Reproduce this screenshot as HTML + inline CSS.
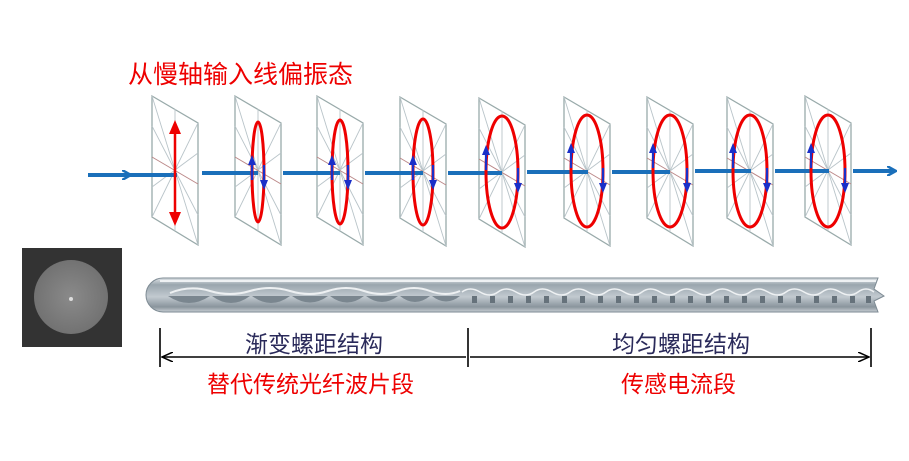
<!DOCTYPE html>
<html><head><meta charset="utf-8"><style>
html,body{margin:0;padding:0;background:#fff;width:909px;height:461px;overflow:hidden}
svg{display:block}
.t{font-family:"Liberation Sans","Noto Sans CJK SC",sans-serif}
</style></head><body>
<svg width="909" height="461" viewBox="0 0 909 461" xmlns="http://www.w3.org/2000/svg">
<defs>
<g id="pl">
<polygon points="0,0 46,27 46,149 0,121" fill="#fff" stroke="#9aa" stroke-width="1.3"/>
<g stroke="#b9c4c9" stroke-width="0.9">
<line x1="0" y1="0" x2="46" y2="149"/><line x1="46" y1="27" x2="0" y2="121"/>
<line x1="23" y1="13" x2="23" y2="135"/>
<line x1="0" y1="30" x2="46" y2="119"/><line x1="46" y1="57" x2="0" y2="91"/>
</g>
<line x1="0" y1="61" x2="46" y2="88" stroke="#b88" stroke-width="1"/>
</g>
<linearGradient id="fg" x1="0" y1="0" x2="0" y2="1">
<stop offset="0" stop-color="#dfe4e8"/><stop offset="0.2" stop-color="#9aa6ae"/><stop offset="0.55" stop-color="#c2cad0"/><stop offset="0.85" stop-color="#8a959d"/><stop offset="1" stop-color="#c8cfd4"/>
</linearGradient>
<radialGradient id="cg"><stop offset="0" stop-color="#8a8a8a"/><stop offset="1" stop-color="#727272"/></radialGradient>
<marker id="ah" markerWidth="10" markerHeight="10" refX="8" refY="5" orient="auto" markerUnits="userSpaceOnUse"><path d="M0,0 L9,5 L0,10" fill="none" stroke="#1a6fba" stroke-width="2.5"/></marker>
<marker id="bk" markerWidth="12" markerHeight="10" refX="11" refY="5" orient="auto" markerUnits="userSpaceOnUse"><path d="M0,0 L11,5 L0,10" fill="none" stroke="#000" stroke-width="1.5"/></marker>
</defs>

<text x="128" y="83" class="t" font-size="25" fill="#e00">从慢轴输入线偏振态</text>

<!-- beam -->
<g stroke="#1a6fba" stroke-width="4">
<line x1="88" y1="175" x2="130" y2="175" marker-end="url(#ah)"/>
<line x1="130" y1="175" x2="175" y2="175"/>
<line x1="202" y1="173" x2="258" y2="173"/>
<line x1="283" y1="173" x2="340" y2="173"/>
<line x1="365" y1="173" x2="423" y2="173"/>
<line x1="448" y1="173" x2="502" y2="173"/>
<line x1="527" y1="172" x2="588" y2="172"/>
<line x1="612" y1="172" x2="670" y2="172"/>
<line x1="695" y1="171" x2="751" y2="171"/>
<line x1="775" y1="171" x2="829" y2="171"/>
<line x1="853" y1="171" x2="895" y2="171" marker-end="url(#ah)"/>
</g>

<!-- planes -->
<use href="#pl" x="152" y="96"/>
<use href="#pl" x="235" y="96"/>
<use href="#pl" x="317" y="96"/>
<use href="#pl" x="400" y="97"/>
<use href="#pl" x="479" y="98"/>
<use href="#pl" x="564" y="97"/>
<use href="#pl" x="647" y="97"/>
<use href="#pl" x="727" y="97"/>
<use href="#pl" x="805" y="96"/>

<g stroke="#1a6fba" stroke-width="4">
<line x1="150" y1="175" x2="177" y2="175"/>
<line x1="233" y1="173" x2="258" y2="173"/>
<line x1="315" y1="173" x2="340" y2="173"/>
<line x1="398" y1="173" x2="423" y2="173"/>
<line x1="477" y1="173" x2="502" y2="173"/>
<line x1="562" y1="172" x2="588" y2="172"/>
<line x1="645" y1="172" x2="670" y2="172"/>
<line x1="725" y1="171" x2="751" y2="171"/>
<line x1="803" y1="171" x2="829" y2="171"/>
</g>

<g stroke="#e00" stroke-width="2.5" fill="#e00">
<line x1="175" y1="128" x2="175" y2="218"/>
<polygon points="175,120 169,134 181,134" stroke="none"/>
<polygon points="175,226 169,212 181,212" stroke="none"/>
</g>

<g fill="none" stroke="#e00" stroke-width="3">
<ellipse cx="258" cy="172" rx="6" ry="50"/>
<ellipse cx="340" cy="172" rx="8" ry="52"/>
<ellipse cx="423" cy="172" rx="10" ry="53"/>
<ellipse cx="502" cy="172" rx="16" ry="56"/>
<ellipse cx="587" cy="171" rx="16" ry="56"/>
<ellipse cx="670" cy="171" rx="17" ry="56"/>
<ellipse cx="750" cy="171" rx="17" ry="56"/>
<ellipse cx="828" cy="171" rx="17" ry="56"/>
</g>
<g stroke="#1a2fc8" stroke-width="2.2" fill="#1a2fc8">
<line x1="252" y1="180" x2="252" y2="162"/><polygon points="252,155 248,165 256,165" stroke="none"/>
<line x1="264" y1="165" x2="264" y2="183"/><polygon points="264,190 260,180 268,180" stroke="none"/>
<line x1="332" y1="180" x2="332" y2="162"/><polygon points="332,155 328,165 336,165" stroke="none"/>
<line x1="348" y1="165" x2="348" y2="183"/><polygon points="348,190 344,180 352,180" stroke="none"/>
<line x1="413" y1="180" x2="413" y2="162"/><polygon points="413,155 409,165 417,165" stroke="none"/>
<line x1="433" y1="165" x2="433" y2="183"/><polygon points="433,190 429,180 437,180" stroke="none"/>
<line x1="486" y1="170" x2="486" y2="152"/><polygon points="486,145 482,155 490,155" stroke="none"/>
<line x1="518" y1="168" x2="518" y2="186"/><polygon points="518,193 514,183 522,183" stroke="none"/>
<line x1="571" y1="168" x2="571" y2="150"/><polygon points="571,143 567,153 575,153" stroke="none"/>
<line x1="603" y1="168" x2="603" y2="186"/><polygon points="603,193 599,183 607,183" stroke="none"/>
<line x1="653" y1="168" x2="653" y2="150"/><polygon points="653,143 649,153 657,153" stroke="none"/>
<line x1="687" y1="168" x2="687" y2="186"/><polygon points="687,193 683,183 691,183" stroke="none"/>
<line x1="733" y1="168" x2="733" y2="150"/><polygon points="733,143 729,153 737,153" stroke="none"/>
<line x1="767" y1="168" x2="767" y2="186"/><polygon points="767,193 763,183 771,183" stroke="none"/>
<line x1="811" y1="168" x2="811" y2="150"/><polygon points="811,143 807,153 815,153" stroke="none"/>
<line x1="845" y1="168" x2="845" y2="186"/><polygon points="845,193 841,183 849,183" stroke="none"/>
</g>

<rect x="22" y="248" width="100" height="99" fill="#333"/>
<circle cx="71" cy="297" r="37" fill="url(#cg)"/>
<circle cx="71" cy="299" r="2" fill="#ddd"/>

<path d="M163,278 L878,278 L874,289 L884,296 L874,301 L878,312 L163,312 A17,17 0 0 1 163,278 Z" fill="url(#fg)" stroke="#7d8a93" stroke-width="1"/>
<line x1="160" y1="281" x2="876" y2="281" stroke="#eef1f3" stroke-width="2"/>
<g fill="#7a868f">
<path d="M168,296 Q189,310 210,296 Z"/><path d="M212,296 Q231,310 250,296 Z"/><path d="M252,296 Q271,310 290,296 Z"/><path d="M292,296 Q310,309 328,296 Z"/><path d="M330,296 Q347,309 364,296 Z"/><path d="M366,296 Q382,308 398,296 Z"/><path d="M400,296 Q415,308 430,296 Z"/><path d="M432,296 Q446,307 460,296 Z"/>
</g>
<path d="M170,293 Q190,285 210,291 T250,291 T290,291 T328,291 T364,291 T398,291 T430,291 T460,291" fill="none" stroke="#edf0f2" stroke-width="2"/>
<g fill="#66727b">
<rect x="472" y="296" width="5" height="7"/><rect x="490" y="296" width="5" height="7"/><rect x="508" y="296" width="5" height="7"/><rect x="526" y="296" width="5" height="7"/><rect x="544" y="296" width="5" height="7"/><rect x="562" y="296" width="5" height="7"/><rect x="580" y="296" width="5" height="7"/><rect x="598" y="296" width="5" height="7"/><rect x="616" y="296" width="5" height="7"/><rect x="634" y="296" width="5" height="7"/><rect x="652" y="296" width="5" height="7"/><rect x="670" y="296" width="5" height="7"/><rect x="688" y="296" width="5" height="7"/><rect x="706" y="296" width="5" height="7"/><rect x="724" y="296" width="5" height="7"/><rect x="742" y="296" width="5" height="7"/><rect x="760" y="296" width="5" height="7"/><rect x="778" y="296" width="5" height="7"/><rect x="796" y="296" width="5" height="7"/><rect x="814" y="296" width="5" height="7"/><rect x="832" y="296" width="5" height="7"/><rect x="850" y="296" width="5" height="7"/><rect x="866" y="296" width="5" height="7"/>
</g>
<path d="M462,292 Q470,286 480,292 T498,292 T516,292 T534,292 T552,292 T570,292 T588,292 T606,292 T624,292 T642,292 T660,292 T678,292 T696,292 T714,292 T732,292 T750,292 T768,292 T786,292 T804,292 T822,292 T840,292 T858,292 T874,292" fill="none" stroke="#eef1f3" stroke-width="1.5"/>

<g stroke="#000" stroke-width="1.6">
<line x1="160" y1="328" x2="160" y2="367"/>
<line x1="468" y1="328" x2="468" y2="367"/>
<line x1="871" y1="328" x2="871" y2="367"/>
<line x1="466" y1="357" x2="162" y2="357" marker-end="url(#bk)"/>
<line x1="470" y1="357" x2="869" y2="357" marker-end="url(#bk)"/>
</g>
<text x="245" y="352" class="t" font-size="23" fill="#2a2a5a">渐变螺距结构</text>
<text x="612" y="352" class="t" font-size="23" fill="#2a2a5a">均匀螺距结构</text>
<text x="207" y="392" class="t" font-size="23" fill="#e00">替代传统光纤波片段</text>
<text x="621" y="392" class="t" font-size="23" fill="#e00">传感电流段</text>
</svg>
</body></html>
